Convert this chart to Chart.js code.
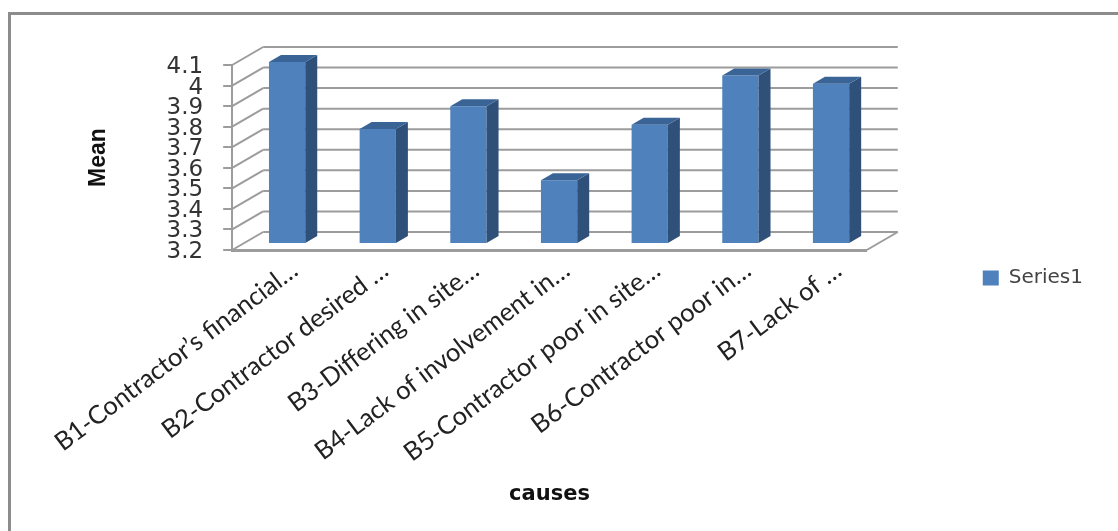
<!DOCTYPE html>
<html>
<head>
<meta charset="utf-8">
<style>
  html, body { margin: 0; padding: 0; background: #fff; }
  #wrap { position: relative; width: 1118px; height: 531px; overflow: hidden; }
  #frame { position: absolute; left: 8px; top: 12px; width: 1200px; height: 600px; border: 3px solid #8c8c8c; box-sizing: border-box; }
  canvas { position: absolute; left: 0; top: 0; }
</style>
</head>
<body>
<div id="wrap">
  <div id="frame"></div>
  <canvas id="meanChart" width="1118" height="531"></canvas>
</div>
<script src="https://cdn.jsdelivr.net/npm/chart.js@4"></script>
<script>
const categories = [
  "B1-Contractor’s financial…",
  "B2-Contractor desired …",
  "B3-Differing in site…",
  "B4-Lack of involvement in…",
  "B5-Contractor poor in site…",
  "B6-Contractor poor in…",
  "B7-Lack of …"
];
const means = [4.085, 3.76, 3.87, 3.51, 3.78, 4.02, 3.98];
const seriesName = "Series1";
const yTicks = [3.2, 3.3, 3.4, 3.5, 3.6, 3.7, 3.8, 3.9, 4, 4.1];

const BAR_BLUE = '#4f81bd';
const BAR_SIDE = '#2f5079';
const BAR_TOP = '#3b6496';
const WALL_LINE = '#9c9c9c';

// depth of the box the bars stand in, and of the bars themselves
const wallDepth = { x: 31, y: -18 };
const barPlane = { x: 9.6, y: -6 };
const barDepth = { x: 12, y: -7 };

function strokeLine(ctx, x1, y1, x2, y2) {
  ctx.beginPath();
  ctx.moveTo(x1, y1);
  ctx.lineTo(x2, y2);
  ctx.stroke();
}

const box3d = {
  id: 'box3d',
  afterLayout(chart) {
    // legend sits well clear of the plot
    const legend = chart.legend;
    legend.left += 106;
    legend.right += 106;
    legend.top -= 10;
    legend.bottom -= 10;
  },
  beforeDatasetsDraw(chart) {
    const { ctx, scales: { x, y } } = chart;
    ctx.save();
    ctx.strokeStyle = WALL_LINE;
    ctx.lineWidth = 2;
    // back wall gridlines plus their run down the side wall
    yTicks.forEach(v => {
      const py = y.getPixelForValue(v);
      strokeLine(ctx, x.left, py, x.left + wallDepth.x, py + wallDepth.y);
      strokeLine(ctx, x.left + wallDepth.x, py + wallDepth.y, x.right + wallDepth.x, py + wallDepth.y);
    });
    // floor edge on the right
    const floorY = y.getPixelForValue(yTicks[0]);
    strokeLine(ctx, x.right, floorY, x.right + wallDepth.x, floorY + wallDepth.y);
    ctx.restore();

    // bars sit part way into the box
    ctx.save();
    ctx.translate(barPlane.x, barPlane.y);
  },
  afterDatasetsDraw(chart) {
    const { ctx } = chart;
    chart.getDatasetMeta(0).data.forEach(bar => {
      const half = bar.width / 2;
      const l = bar.x - half, r = bar.x + half;
      // right side face
      ctx.fillStyle = BAR_SIDE;
      ctx.beginPath();
      ctx.moveTo(r, bar.y);
      ctx.lineTo(r + barDepth.x, bar.y + barDepth.y);
      ctx.lineTo(r + barDepth.x, bar.base + barDepth.y);
      ctx.lineTo(r, bar.base);
      ctx.closePath();
      ctx.fill();
      // top face
      ctx.fillStyle = BAR_TOP;
      ctx.beginPath();
      ctx.moveTo(l, bar.y);
      ctx.lineTo(l + barDepth.x, bar.y + barDepth.y);
      ctx.lineTo(r + barDepth.x, bar.y + barDepth.y);
      ctx.lineTo(r, bar.y);
      ctx.closePath();
      ctx.fill();
    });
    ctx.restore();
  }
};

new Chart(document.getElementById('meanChart'), {
  type: 'bar',
  data: {
    labels: categories,
    datasets: [{
      label: seriesName,
      data: means,
      base: 3.2,
      backgroundColor: BAR_BLUE,
      barPercentage: 0.4,
      categoryPercentage: 1
    }]
  },
  options: {
    responsive: false,
    animation: false,
    layout: { padding: { left: 81, right: 131, top: 65, bottom: 20 } },
    plugins: {
      tooltip: { enabled: false },
      legend: {
        position: 'right',
        align: 'center',
        labels: {
          boxWidth: 16,
          boxHeight: 15,
          color: '#444',
          font: { family: 'DejaVu Sans', size: 20 }
        }
      }
    },
    scales: {
      x: {
        // long slanted labels need more than the default half of the height
        afterFit(axis) {
          axis.height = 261;
        },
        grid: { display: false, drawTicks: false },
        border: { color: WALL_LINE, width: 3 },
        ticks: {
          color: '#222',
          minRotation: 37,
          maxRotation: 37,
          autoSkip: false,
          padding: 5,
          labelOffset: 17,
          font: { family: 'Lato', size: 25.5 }
        },
        title: {
          display: true,
          text: 'causes',
          color: '#111',
          padding: { top: 14 },
          font: { family: 'DejaVu Sans', size: 21, weight: 'bold' }
        }
      },
      y: {
        min: 3.2,
        max: 4.1,
        afterBuildTicks(axis) {
          axis.ticks = yTicks.map(v => ({ value: v }));
        },
        grid: { drawOnChartArea: false, color: WALL_LINE, tickLength: 9, lineWidth: 2 },
        border: { color: WALL_LINE, width: 2 },
        ticks: {
          color: '#333',
          padding: 20,
          labelOffset: 2,
          autoSkip: false,
          font: { family: 'DejaVu Sans', size: 23 },
          callback: v => String(v)
        },
        title: {
          display: true,
          text: 'Mean',
          color: '#111',
          padding: { bottom: 34 },
          font: { family: 'Liberation Sans', size: 23, weight: 'bold' }
        }
      }
    }
  },
  plugins: [box3d]
});
</script>
</body>
</html>
